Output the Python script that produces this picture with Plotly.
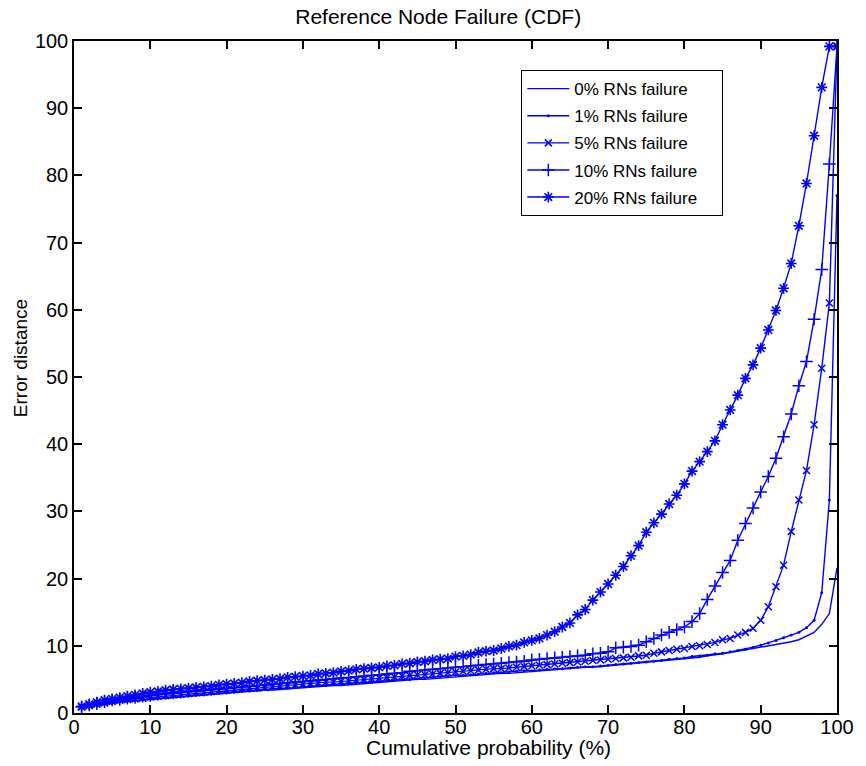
import plotly.graph_objects as go

x_pct = list(range(1, 101))

rn0 = [0.8, 1.0, 1.1, 1.3, 1.4, 1.6, 1.7, 1.8, 1.9, 2.0,
       2.1, 2.2, 2.3, 2.4, 2.5, 2.6, 2.7, 2.8, 2.9, 3.0,
       3.0, 3.1, 3.2, 3.3, 3.4, 3.4, 3.5, 3.6, 3.7, 3.8,
       3.8, 3.9, 4.0, 4.1, 4.1, 4.2, 4.3, 4.4, 4.5, 4.5,
       4.6, 4.7, 4.8, 4.9, 5.0, 5.0, 5.1, 5.2, 5.3, 5.4,
       5.5, 5.5, 5.6, 5.7, 5.8, 5.9, 5.9, 6.0, 6.1, 6.2,
       6.3, 6.3, 6.4, 6.5, 6.6, 6.7, 6.8, 6.8, 6.9, 7.0,
       7.1, 7.2, 7.3, 7.4, 7.5, 7.6, 7.7, 7.8, 8.0, 8.1,
       8.2, 8.3, 8.5, 8.6, 8.8, 9.0, 9.2, 9.4, 9.6, 9.8,
       10.0, 10.1, 10.3, 10.6, 10.9, 11.5, 12.0, 13.2, 14.8, 21.6]

rn1 = [0.8, 1.0, 1.2, 1.4, 1.5, 1.7, 1.8, 1.9, 2.0, 2.1,
       2.2, 2.3, 2.4, 2.5, 2.6, 2.7, 2.8, 2.9, 3.0, 3.1,
       3.2, 3.3, 3.3, 3.4, 3.5, 3.6, 3.7, 3.7, 3.8, 3.9,
       4.0, 4.1, 4.1, 4.2, 4.3, 4.4, 4.5, 4.5, 4.6, 4.7,
       4.8, 4.9, 5.0, 5.0, 5.1, 5.2, 5.3, 5.4, 5.5, 5.6,
       5.6, 5.7, 5.8, 5.9, 6.0, 6.0, 6.1, 6.2, 6.3, 6.3,
       6.4, 6.5, 6.6, 6.6, 6.7, 6.8, 6.9, 6.9, 7.0, 7.1,
       7.2, 7.3, 7.4, 7.5, 7.6, 7.7, 7.8, 8.0, 8.1, 8.2,
       8.4, 8.5, 8.6, 8.8, 8.9, 9.1, 9.3, 9.5, 9.8, 10.1,
       10.4, 10.8, 11.2, 11.6, 12.0, 12.7, 13.8, 17.9, 31.7, 77.0]

rn5 = [0.9, 1.1, 1.3, 1.5, 1.7, 1.9, 2.0, 2.1, 2.2, 2.4,
       2.5, 2.6, 2.7, 2.8, 2.9, 3.0, 3.1, 3.2, 3.3, 3.4,
       3.5, 3.6, 3.7, 3.7, 3.8, 3.9, 4.0, 4.1, 4.2, 4.3,
       4.4, 4.5, 4.6, 4.6, 4.7, 4.8, 4.9, 5.0, 5.1, 5.2,
       5.3, 5.4, 5.5, 5.6, 5.7, 5.7, 5.8, 5.9, 6.0, 6.1,
       6.2, 6.3, 6.4, 6.5, 6.6, 6.6, 6.7, 6.8, 6.9, 7.0,
       7.1, 7.2, 7.3, 7.4, 7.5, 7.6, 7.7, 7.8, 7.9, 8.0,
       8.1, 8.2, 8.3, 8.5, 8.6, 8.9, 9.1, 9.3, 9.5, 9.6,
       9.9, 10.0, 10.2, 10.5, 10.9, 11.1, 11.6, 12.0, 12.6, 13.8,
       15.8, 18.8, 22.0, 27.0, 31.7, 36.1, 42.9, 51.3, 61.0, 99.2]

rn10 = [0.9, 1.2, 1.4, 1.7, 1.9, 2.0, 2.2, 2.3, 2.5, 2.6,
        2.8, 2.9, 3.0, 3.1, 3.2, 3.3, 3.4, 3.5, 3.6, 3.7,
        3.8, 3.9, 4.0, 4.1, 4.2, 4.3, 4.4, 4.5, 4.6, 4.7,
        4.8, 4.9, 5.0, 5.1, 5.2, 5.3, 5.4, 5.5, 5.6, 5.7,
        5.8, 5.9, 6.0, 6.2, 6.3, 6.4, 6.5, 6.6, 6.7, 6.8,
        6.9, 7.0, 7.1, 7.2, 7.3, 7.4, 7.5, 7.6, 7.7, 7.9,
        8.0, 8.1, 8.2, 8.3, 8.4, 8.5, 8.6, 8.8, 8.9, 9.1,
        9.7, 9.8, 9.9, 10.1, 10.6, 11.1, 11.6, 12.0, 12.4, 12.8,
        13.6, 14.8, 16.9, 18.9, 20.9, 22.7, 25.7, 28.2, 30.5, 32.9,
        35.2, 37.9, 41.1, 44.5, 48.7, 52.3, 58.6, 66.0, 81.7, 99.2]

rn20 = [1.0, 1.3, 1.6, 1.9, 2.1, 2.3, 2.5, 2.7, 2.9, 3.1,
        3.2, 3.4, 3.5, 3.6, 3.7, 3.8, 3.9, 4.0, 4.2, 4.3,
        4.4, 4.5, 4.7, 4.8, 4.9, 5.0, 5.1, 5.3, 5.4, 5.5,
        5.6, 5.8, 5.9, 6.0, 6.2, 6.3, 6.5, 6.6, 6.7, 6.8,
        7.0, 7.1, 7.3, 7.4, 7.6, 7.7, 7.9, 8.0, 8.1, 8.4,
        8.5, 8.7, 9.0, 9.2, 9.3, 9.6, 9.9, 10.1, 10.5, 10.8,
        11.1, 11.6, 12.1, 12.8, 13.4, 14.6, 15.4, 16.8, 18.0, 19.2,
        20.5, 21.8, 23.4, 24.9, 26.9, 28.3, 29.6, 31.1, 32.4, 34.1,
        36.0, 37.4, 38.9, 40.5, 42.9, 45.1, 47.3, 49.8, 51.8, 54.3,
        57.0, 59.9, 63.2, 66.9, 72.5, 78.8, 85.9, 93.1, 99.2, 99.2]

names = ["0% RNs failure", "1% RNs failure", "5% RNs failure",
         "10% RNs failure", "20% RNs failure"]
series = [rn0, rn1, rn5, rn10, rn20]

BLUE = "#0000ff"
styles = [
    dict(mode="lines", marker=None),
    dict(mode="lines+markers", marker=dict(symbol="circle", size=3, color=BLUE)),
    dict(mode="lines+markers", marker=dict(symbol="x-thin-open", size=7,
                                           color=BLUE, line=dict(width=1.5, color=BLUE))),
    dict(mode="lines+markers", marker=dict(symbol="cross-thin-open", size=9,
                                           color=BLUE, line=dict(width=1.5, color=BLUE))),
    dict(mode="lines+markers", marker=dict(symbol="asterisk-open", size=9,
                                           color=BLUE, line=dict(width=1.6, color=BLUE))),
]

PAD = "\u00a0" * 4  # right padding inside the legend box

fig = go.Figure()
for i, (name, ys, st) in enumerate(zip(names, series, styles)):
    kw = dict(x=x_pct, y=ys, name=name + PAD, mode=st["mode"], legendgroup=f"g{i}",
              line=dict(color=BLUE, width=1.4))
    if st["marker"] is not None:
        kw["marker"] = st["marker"]
    fig.add_trace(go.Scatter(**kw))

font_family = "Liberation Sans, Arial, sans-serif"
axis_common = dict(
    showgrid=False, zeroline=False, showline=True, linecolor="black",
    linewidth=1.5, mirror="ticks", ticks="inside", ticklen=8,
    tickcolor="black", tickwidth=1.5,
    tickfont=dict(size=20, color="black", family=font_family),
)

fig.update_layout(
    width=866, height=766,
    paper_bgcolor="white", plot_bgcolor="white",
    margin=dict(l=74, r=22, t=41, b=53),
    title=dict(text="Reference Node Failure (CDF)", x=0.506, xanchor="center",
               y=0.978, yanchor="middle",
               font=dict(size=21, color="black", family=font_family)),
    xaxis=dict(range=[0, 100], dtick=10, ticklabelstandoff=-5, **axis_common),
    yaxis=dict(range=[0, 100], dtick=10, **axis_common),
    legend=dict(x=0.586, y=0.957, xanchor="left", yanchor="top",
                bgcolor="white", bordercolor="black", borderwidth=1.2,
                font=dict(size=17, color="black", family=font_family),
                tracegroupgap=2, itemwidth=42),
    showlegend=True,
    annotations=[
        dict(text="Cumulative probability (%)", xref="x", yref="paper",
             x=54.3, y=0, yshift=-34, xanchor="center", yanchor="middle",
             showarrow=False,
             font=dict(size=21, color="black", family=font_family)),
        dict(text="Error distance", xref="paper", yref="paper",
             x=0, xshift=-54, y=0.528, yanchor="middle", xanchor="center",
             textangle=-90, showarrow=False,
             font=dict(size=19, color="black", family=font_family)),
    ],
)

fig.write_html("out.html", config={"displayModeBar": False},
               post_script="document.body.style.margin='0';document.body.style.overflow='hidden';")
